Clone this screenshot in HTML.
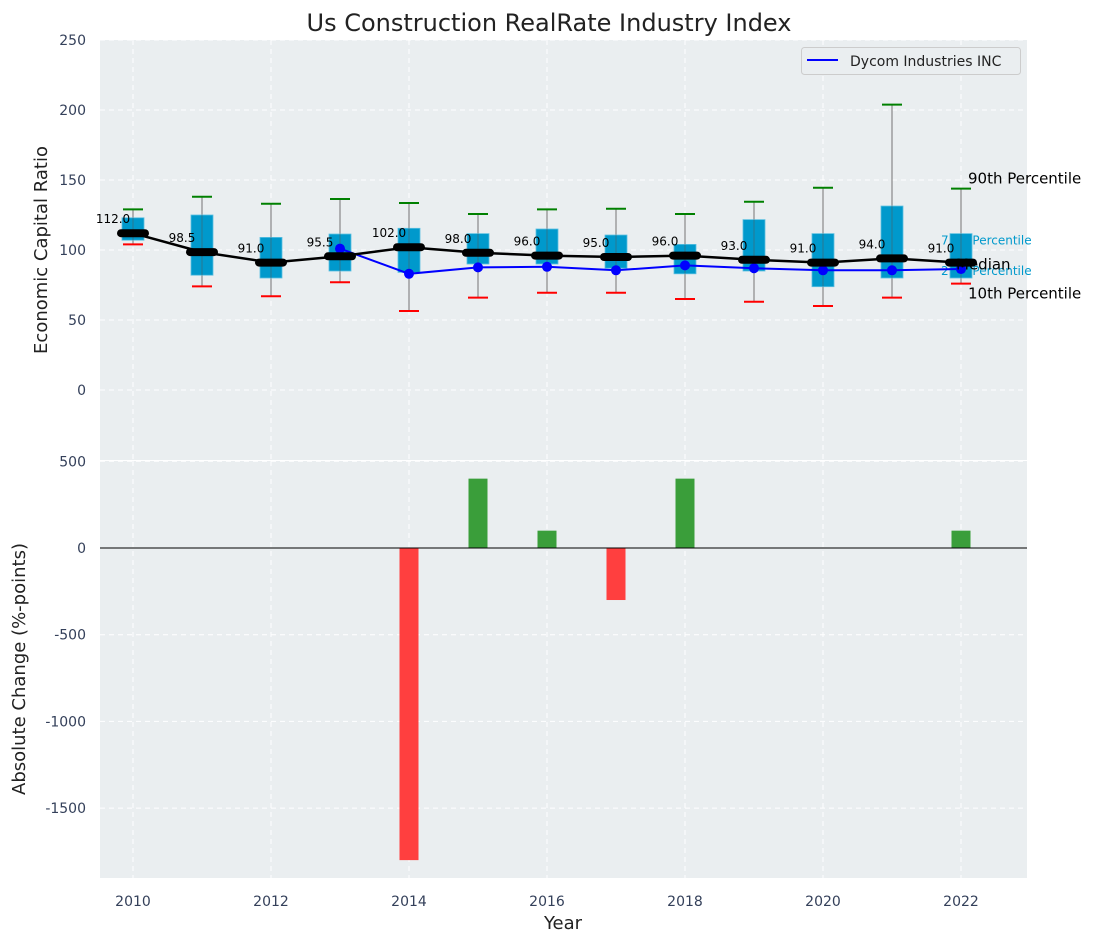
<!DOCTYPE html>
<html><head><meta charset="utf-8"><style>
html,body{margin:0;padding:0;background:#fff;}
svg{display:block;font-family:"DejaVu Sans","Liberation Sans",sans-serif;}
</style></head><body>
<svg id="chart" width="1103" height="942" xmlns="http://www.w3.org/2000/svg">
<text x="549" y="31" font-size="24" text-anchor="middle" fill="#222">Us Construction RealRate Industry Index</text>
<rect x="100" y="40" width="927" height="420" fill="#eaeef0"/>
<rect x="100" y="461" width="927" height="417" fill="#eaeef0"/>
<g id="topG"></g><g id="botG"></g>
<text transform="translate(47,250) rotate(-90)" font-size="18" text-anchor="middle" fill="#222">Economic Capital Ratio</text>
<text transform="translate(25,669) rotate(-90)" font-size="18" text-anchor="middle" fill="#222">Absolute Change (%-points)</text>
<text x="563" y="929" font-size="18" text-anchor="middle" fill="#222">Year</text>
<g>
<rect x="801.5" y="47.5" width="219" height="27" rx="3" fill="#eaeef0" stroke="#ccc"/>
<line x1="807" y1="60" x2="838" y2="60" stroke="#0000ff" stroke-width="2"/>
<text x="850" y="66" font-size="14" fill="#222">Dycom Industries INC</text>
</g>
</svg>
<script>
const years=[2010,2011,2012,2013,2014,2015,2016,2017,2018,2019,2020,2021,2022];
const p90=[129,138,133,136.4,133.6,125.7,129,129.5,125.7,134.5,144.5,203.8,143.8];
const q75=[123,125,109,111.4,115.5,111.7,115,110.7,104,121.7,111.7,131.4,111.7];
const medians=[112,98.5,91,95.5,102,98,96,95,96,93,91,94,91];
const q25=[107,82,80,85,84,90,90,87,83,85,73.8,80,80];
const p10=[104,74,67,77,56.4,66,69.5,69.5,65,63,60,66,76];
const company=[null,null,null,101,83,87.6,88,85.5,89,87,85.5,85.5,86.4];
const changes=[0,0,0,0,-1800,400,100,-300,400,0,0,0,100];
const topTicks=[0,50,100,150,200,250];
const botTicks=[-1500,-1000,-500,0,500];
const xTicks=[2010,2012,2014,2016,2018,2020,2022];

const NS="http://www.w3.org/2000/svg";
const X=v=>133+(v-2010)*69;
const Yt=v=>390-v*1.4;
const Yb=v=>548-v*0.1734;
function mk(p,tag,at){const e=document.createElementNS(NS,tag);for(const k in at)e.setAttribute(k,at[k]);p.appendChild(e);return e;}
const topG=document.getElementById('topG'),botG=document.getElementById('botG');
const tickCol='#34405a';

xTicks.forEach(t=>{
 const g=mk(topG,'line',{x1:X(t),x2:X(t),y1:40,y2:460,stroke:'#fff','stroke-dasharray':'5,4','stroke-width':1});
 
 
 const g2=mk(botG,'line',{x1:X(t),x2:X(t),y1:461,y2:878,stroke:'#fff','stroke-dasharray':'5,4','stroke-width':1});
 
 
 const l=mk(botG,'text',{x:X(t),y:906,'font-size':14,'text-anchor':'middle',fill:tickCol});l.textContent=t;
 
 
});
topTicks.forEach(t=>{
 const g=mk(topG,'line',{x1:100,x2:1027,y1:Yt(t),y2:Yt(t),stroke:'#fff','stroke-dasharray':'5,4'});
 
 
 const l=mk(topG,'text',{x:86,y:Yt(t)+5,'font-size':14,'text-anchor':'end',fill:tickCol});l.textContent=t;
 
 
});
botTicks.forEach(t=>{
 const g=mk(botG,'line',{x1:100,x2:1027,y1:Yb(t),y2:Yb(t),stroke:'#fff','stroke-dasharray':'5,4'});
 
 
 const l=mk(botG,'text',{x:86,y:Yb(t)+5,'font-size':14,'text-anchor':'end',fill:tickCol});l.textContent=t;
 
 
});

const last=years.length-1,lx=X(years[last]);
[[q75[last],'75th Percentile',11],[q25[last],'25th Percentile',-3]].forEach(a=>{
 const t=mk(topG,'text',{x:lx-20,y:Yt(a[0])+a[2],'font-size':12,fill:'#0099cc'});t.textContent=a[1];
 
 
});

years.forEach((y,i)=>{
 const x=X(y);
 const w=mk(topG,'line',{x1:x,x2:x,y1:Yt(p90[i]),y2:Yt(p10[i]),stroke:'#888','stroke-width':1.2});
 
 
 const b=mk(topG,'rect',{x:x-11,y:Yt(q75[i]),width:22,height:Yt(q25[i])-Yt(q75[i]),fill:'#0099cc',stroke:'#5bbfe0','stroke-width':0.8});
 
 
 const w2=mk(topG,'line',{x1:x,x2:x,y1:Yt(q75[i]),y2:Yt(q25[i]),stroke:'#555','stroke-width':1,opacity:0.5});
 
 
 const c1=mk(topG,'line',{x1:x-10,x2:x+10,y1:Yt(p90[i]),y2:Yt(p90[i]),stroke:'#008000','stroke-width':2});
 
 
 const c2=mk(topG,'line',{x1:x-10,x2:x+10,y1:Yt(p10[i]),y2:Yt(p10[i]),stroke:'#ff0000','stroke-width':2});
 
 
});
let pts=[];years.forEach((y,i)=>{if(company[i]!=null)pts.push(X(y)+','+Yt(company[i]));});
const cl=mk(topG,'polyline',{points:pts.join(' '),fill:'none',stroke:'#0000ff','stroke-width':2});


years.forEach((y,i)=>{if(company[i]==null)return;
 const d=mk(topG,'circle',{cx:X(y),cy:Yt(company[i]),r:5,fill:'#0000ff'});
 
 
});
const ml=mk(topG,'polyline',{points:years.map((y,i)=>X(y)+','+Yt(medians[i])).join(' '),fill:'none',stroke:'#000','stroke-width':2.5});


years.forEach((y,i)=>{
 const m=mk(topG,'line',{x1:X(y)-12,x2:X(y)+12,y1:Yt(medians[i]),y2:Yt(medians[i]),stroke:'#000','stroke-width':8,'stroke-linecap':'round'});
 
 
 const t=mk(topG,'text',{x:X(y)-20,y:Yt(medians[i])-10,'font-size':12,'text-anchor':'middle',fill:'#000'});
 t.textContent=medians[i].toFixed(1);
 
 
});
[[p90[last],'90th Percentile',7,-5],[medians[last],'Median',-5,7],[p10[last],'10th Percentile',7,15]].forEach(a=>{
 const t=mk(topG,'text',{x:lx+a[2],y:Yt(a[0])+a[3],'font-size':15,fill:'#000'});t.textContent=a[1];
 
 
});

years.forEach((y,i)=>{
 const v=changes[i];if(v===0)return;
 const r=mk(botG,'rect',{x:X(y)-9.5,y:Math.min(Yb(v),Yb(0)),width:19,height:Math.abs(Yb(v)-Yb(0)),fill:v>0?'#3a9e3a':'#ff3f3f'});
 
 
});
const z=mk(botG,'line',{x1:100,x2:1027,y1:Yb(0),y2:Yb(0),stroke:'#000','stroke-width':1});


</script>
</body></html>
